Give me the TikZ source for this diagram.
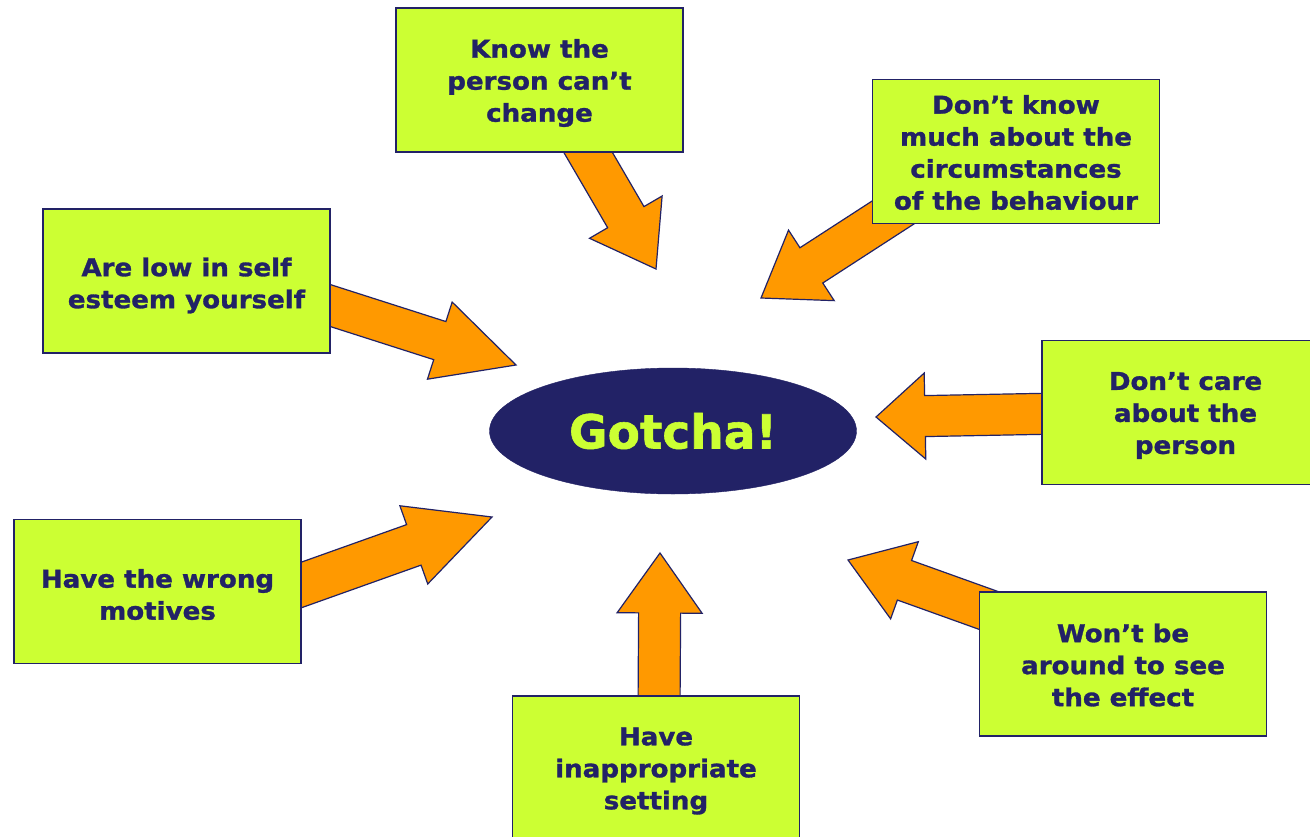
\documentclass[tikz,border=0pt]{standalone}
\usepackage{fontspec}
\setmainfont{DejaVu Sans}[FakeStretch=1.065, BoldFeatures={FakeBold=1.2}]
\newfontfamily\titlefont{DejaVu Sans}[BoldFeatures={FakeBold=1.2}]
\usetikzlibrary{calc,shapes.geometric}
\pgfdeclarelayer{background}
\pgfsetlayers{background,main}

\definecolor{navy}{RGB}{34,34,102}
\definecolor{lime}{RGB}{204,255,51}
\definecolor{amber}{RGB}{255,153,0}

% Block arrow: #1 start, #2 tip, #3 shaft half width, #4 head half width, #5 head length
\newcommand\blockarrow[5]{%
  \coordinate (hb) at ($(#2)!#5!(#1)$);
  \draw[arrowbody]
    ($(#1)!#3!90:(#2)$) -- ($(hb)!#3!90:(#2)$) -- ($(hb)!#4!90:(#2)$) --
    (#2) --
    ($(hb)!#4!-90:(#2)$) -- ($(hb)!#3!-90:(#2)$) -- ($(#1)!#3!-90:(#2)$) -- cycle;
}

\begin{document}
\begin{tikzpicture}[x=1pt,y=-1pt,
  box/.style={draw=navy, line width=1.2pt, fill=lime, minimum width=287pt,
    minimum height=144pt, inner sep=0pt},
  boxtext/.style={align=center, text=navy, inner sep=0pt, yshift=-3pt,
    font=\bfseries\fontsize{24.5}{32}\selectfont},
  arrowbody/.style={draw=navy, line width=1.2pt, fill=amber, line join=miter}]

\clip (0,0) rectangle (1310,836);

% centre
\node[ellipse, fill=navy, draw=navy, minimum width=367pt, minimum height=126pt,
  text=lime, font=\titlefont\bfseries\fontsize{47}{56}\selectfont] (g) at (673,431) {Gotcha!};

% reasons
\node[box, label={[boxtext]center:Know the\\person can’t\\change}] (k1) at (539.5,80) {};
\node[box, label={[boxtext,yshift=2pt]center:Don’t know\\much about the\\circumstances\\of the behaviour}] (k2) at (1016,151.5) {};
\node[box, label={[boxtext,yshift=-1.5pt]center:Are low in self\\esteem yourself}] (k3) at (186.5,281) {};
\node[box, label={[boxtext]center:Don’t care\\about the\\person}] (k4) at (1185.5,412.5) {};
\node[box, label={[boxtext]center:Have the wrong\\motives}] (k5) at (157.5,591.5) {};
\node[box, label={[boxtext]center:Have\\inappropriate\\setting}] (k6) at (656,768) {};
\node[box, label={[boxtext,yshift=2pt]center:Won’t be\\around to see\\the effect}] (k7) at (1123,664) {};

% arrow ends
\coordinate (s1) at ($(k1.center)+(36.2,51.1)$);
\coordinate (s2) at ($(k2.center)+(-96,43.5)$);
\coordinate (s3) at ($(k3.center)+(124.3,18.3)$);
\coordinate (s4) at ($(k4.center)+(-125,1)$);
\coordinate (s5) at ($(k5.center)+(124.1,0.5)$);
\coordinate (s6) at ($(k6.center)+(3,-58)$);
\coordinate (s7) at ($(k7.center)+(-105,-43)$);

\coordinate (t1) at (656,269);
\coordinate (t2) at (761,298);
\coordinate (t3) at (516,365);
\coordinate (t4) at (876,417);
\coordinate (t5) at (492,517);
\coordinate (t6) at (660,553);
\coordinate (t7) at (848,560);

\begin{pgfonlayer}{background}
  \fill[white] (0,0) rectangle (1310,836);
  \blockarrow{s1}{t1}{21pt}{42pt}{60pt}
  \blockarrow{s2}{t2}{21pt}{42pt}{60pt}
  \blockarrow{s3}{t3}{20pt}{40.5pt}{80pt}
  \blockarrow{s4}{t4}{20.5pt}{43pt}{49pt}
  \blockarrow{s5}{t5}{21.5pt}{41.5pt}{83pt}
  \blockarrow{s6}{t6}{21pt}{42.5pt}{60pt}
  \blockarrow{s7}{t7}{21pt}{41pt}{60pt}
\end{pgfonlayer}
\end{tikzpicture}
\end{document}
